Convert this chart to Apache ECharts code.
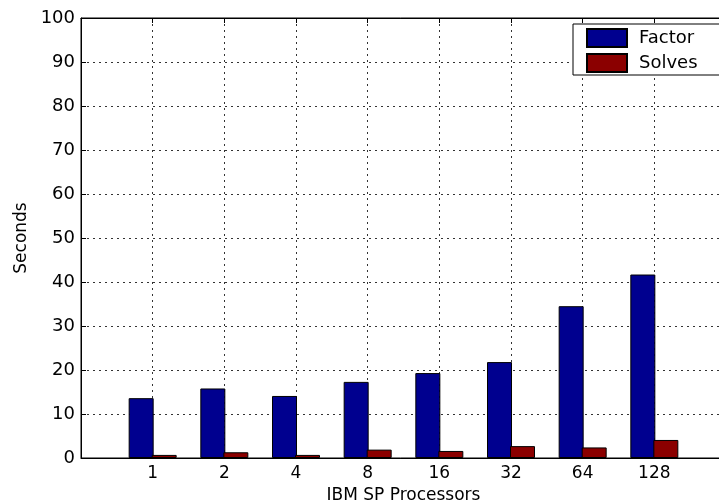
<!DOCTYPE html>
<html>
<head>
<meta charset="utf-8">
<script src="https://cdn.jsdelivr.net/npm/echarts@6/dist/echarts.min.js"></script>
<style>
  html, body { margin: 0; padding: 0; background: #fff; }
  #chart { width: 719px; height: 503px; }
</style>
</head>
<body>
<div id="chart"></div>
<script>
// Processor counts shown on the x axis
const processors = ['1', '2', '4', '8', '16', '32', '64', '128'];
// Time per phase, in seconds
const factorTimes = [13.6, 15.8, 14.1, 17.3, 19.3, 21.8, 34.5, 41.7];
const solveTimes  = [0.7, 1.3, 0.7, 1.9, 1.6, 2.7, 2.4, 4.1];
const yTicks = [0, 10, 20, 30, 40, 50, 60, 70, 80, 90, 100];

const FONT = 'DejaVu Sans';
const toPoints = vals => vals.map((v, i) => [i + 1, v]);

const chart = echarts.init(document.getElementById('chart'), null, { renderer: 'canvas' });

const gridLine = { show: true, lineStyle: { color: '#333', type: [2, 4], width: 1 } };

chart.setOption({
  animation: false,
  backgroundColor: '#fff',
  grid: {
    left: 81, top: 18, width: 645, height: 440,
    outerBoundsMode: 'none', containLabel: false,
    show: true, borderColor: '#000', borderWidth: 1
  },
  legend: {
    orient: 'vertical',
    left: 573, top: 24,
    itemWidth: 40, itemHeight: 18, itemGap: 5,
    padding: [4, 60, 2, 13],
    backgroundColor: '#fff',
    borderColor: '#000', borderWidth: 1,
    icon: 'rect',
    textStyle: { fontFamily: FONT, fontSize: 18, lineHeight: 18, color: '#000', padding: [0, 0, 0, 7] },
    data: ['Factor', 'Solves']
  },
  xAxis: [
    {
      type: 'value', min: 0, max: processors.length + 1, interval: 1,
      position: 'bottom',
      name: 'IBM SP Processors', nameLocation: 'middle', nameGap: 27,
      nameTextStyle: { fontFamily: FONT, fontSize: 17, color: '#000' },
      axisLine: { show: true, lineStyle: { color: '#000', width: 1 } },
      axisTick: { show: true, inside: true, length: 5, lineStyle: { color: '#000' } },
      axisLabel: {
        fontFamily: FONT, fontSize: 17, color: '#000', margin: 7,
        formatter: v => (v >= 1 && v <= processors.length) ? processors[v - 1] : ''
      },
      splitLine: gridLine
    },
    {
      type: 'value', min: 0, max: processors.length + 1, interval: 1,
      position: 'top',
      axisLine: { show: true, lineStyle: { color: '#000', width: 1 } },
      axisTick: { show: true, inside: true, length: 5, lineStyle: { color: '#000' } },
      axisLabel: { show: false },
      splitLine: { show: false }
    }
  ],
  yAxis: {
    type: 'value', min: yTicks[0], max: yTicks[yTicks.length - 1], interval: 10,
    name: 'Seconds', nameLocation: 'middle', nameGap: 51,
    nameTextStyle: { fontFamily: FONT, fontSize: 17, color: '#000' },
    axisLine: { show: true, lineStyle: { color: '#000', width: 1 } },
    axisTick: { show: true, inside: true, length: 5, lineStyle: { color: '#000' } },
    axisLabel: { fontFamily: FONT, fontSize: 18, color: '#000', margin: 6 },
    splitLine: gridLine
  },
  series: [
    {
      name: 'Factor', type: 'bar', xAxisIndex: 0,
      data: toPoints(factorTimes),
      barWidth: 25, barGap: '-8%',
      itemStyle: { color: '#00008f', borderColor: '#000', borderWidth: 1 }
    },
    {
      name: 'Solves', type: 'bar', xAxisIndex: 0,
      data: toPoints(solveTimes),
      barWidth: 25, barGap: '-8%',
      itemStyle: { color: '#8b0000', borderColor: '#000', borderWidth: 1 }
    }
  ]
});
</script>
</body>
</html>
